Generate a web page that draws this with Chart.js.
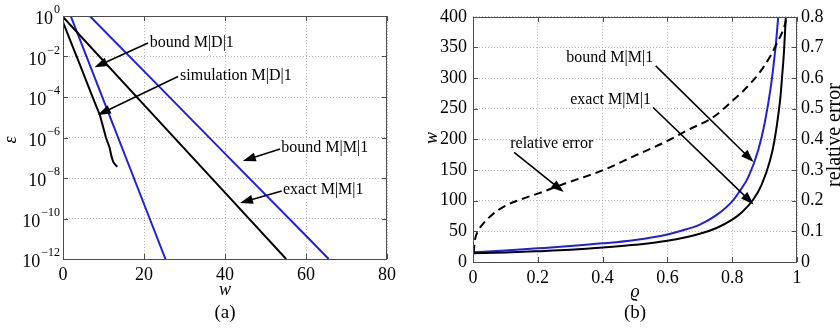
<!DOCTYPE html>
<html>
<head>
<meta charset="utf-8">
<script src="https://cdn.jsdelivr.net/npm/chart.js@4.4.1/dist/chart.umd.min.js"></script>
<style>
body{margin:0;background:#fff;}
#wrap{position:relative;width:840px;height:328px;}
.pane{position:absolute;top:0;width:420px;height:328px;}
</style>
</head>
<body>
<div id="wrap">
  <div class="pane" style="left:0"><canvas id="chartA" width="420" height="328"></canvas></div>
  <div class="pane" style="left:420px"><canvas id="chartB" width="420" height="328"></canvas></div>
</div>
<script>
// ---- panel (a): tail probability eps vs delay w (log y) ----
const wTicksA = [0, 20, 40, 60, 80];
const epsTickExp = [0, -2, -4, -6, -8, -10, -12];

const wBoundMD1 = [1.9, 10, 20, 25.3];
const epsBoundMD1 = [1, 7.1e-5, 5.2e-10, 1e-12];

const wSimMD1 = [0, 2, 4, 6, 8, 9.1, 10.6, 11.5, 12, 12.4, 12.8, 13.4];
const epsSimMD1 = [0.5, 4.9e-2, 4.8e-3, 4.6e-4, 4.5e-5, 1.3e-5, 1e-6, 3.2e-7, 1.1e-7, 6.3e-8, 4.8e-8, 3.6e-8];

const wBoundMM1 = [6.6, 20, 40, 60, 65.6];
const epsBoundMM1 = [1, 1.9e-3, 1.6e-7, 1.4e-11, 1e-12];

const wExactMM1 = [0, 20, 40, 55.1];
const epsExactMM1 = [0.89, 4.1e-5, 1.9e-9, 1e-12];

// ---- panel (b): delay w vs utilisation rho ----
const rhoBound = [0, 0.1, 0.2, 0.3, 0.4, 0.5, 0.6, 0.64, 0.7, 0.75, 0.8, 0.825, 0.85, 0.88, 0.9, 0.92, 0.935, 0.942];
const wBound = [15.8, 18.8, 22.3, 26, 30.4, 36, 45, 50.6, 61, 76, 99, 117, 139, 182, 226, 289, 357, 400];

const rhoExact = [0, 0.1, 0.2, 0.3, 0.4, 0.5, 0.6, 0.7, 0.75, 0.8, 0.83, 0.865, 0.89, 0.917, 0.93, 0.947, 0.95, 0.958, 0.96, 0.9655];
const wExact = [14.1, 15.5, 17.6, 20, 23.5, 28, 34.5, 46, 55, 69, 81, 102, 125, 166, 197, 260, 276, 329, 345, 400];

const rhoErr = [0.002, 0.006, 0.015, 0.032, 0.06, 0.094, 0.15, 0.2, 0.284, 0.4, 0.5, 0.6, 0.66, 0.742, 0.8, 0.845, 0.896, 0.937, 0.963, 0.966];
const relErr = [0.03, 0.072, 0.1, 0.126, 0.155, 0.18, 0.205, 0.223, 0.256, 0.299, 0.347, 0.395, 0.429, 0.473, 0.525, 0.57, 0.635, 0.711, 0.776, 0.79];

const BLUE = '#2020dc';
const FRAME = '#4d4d4d';
const GRID = '#b8b8b8';
const SERIF = "'Liberation Serif', 'DejaVu Serif', serif";
const TICKFONT = {family: SERIF, size: 18};

Chart.defaults.font.family = SERIF;
Chart.defaults.font.size = 18;
Chart.defaults.color = '#000';

function pts(xs, ys){ return xs.map((x,i)=>({x:x, y:ys[i]})); }

function arrow(ctx, x1, y1, x2, y2){
  const a = Math.atan2(y2-y1, x2-x1), c = Math.cos(a), s = Math.sin(a);
  ctx.beginPath();
  ctx.moveTo(x1, y1);
  ctx.lineTo(x2 - 8*c, y2 - 8*s);
  ctx.stroke();
  ctx.beginPath();
  ctx.moveTo(x2, y2);
  ctx.lineTo(x2 - 13*c + 4.5*s, y2 - 13*s - 4.5*c);
  ctx.lineTo(x2 - 13*c - 4.5*s, y2 - 13*s + 4.5*c);
  ctx.closePath();
  ctx.fill();
}

function rotText(ctx, txt, x, y, font){
  ctx.save();
  ctx.translate(x, y);
  ctx.rotate(-Math.PI/2);
  ctx.font = font;
  ctx.textAlign = 'center';
  ctx.textBaseline = 'middle';
  ctx.fillText(txt, 0, 0);
  ctx.restore();
}

// frame + inward tick marks like the original
function frameAndTicks(chart, xs, leftY, rightY){
  const {ctx, chartArea:a} = chart;
  ctx.save();
  ctx.strokeStyle = FRAME;
  ctx.lineWidth = 1;
  ctx.strokeRect(Math.round(a.left)+0.5, Math.round(a.top)+0.5, Math.round(a.right-a.left)-1, Math.round(a.bottom-a.top));
  ctx.beginPath();
  xs.ticks.forEach(t=>{
    const p = Math.round(xs.getPixelForValue(t.value))+0.5;
    ctx.moveTo(p, a.bottom); ctx.lineTo(p, a.bottom-5);
    ctx.moveTo(p, a.top); ctx.lineTo(p, a.top+5);
  });
  leftY.ticks.forEach(t=>{
    const p = Math.round(leftY.getPixelForValue(t.value))+0.5;
    ctx.moveTo(a.left, p); ctx.lineTo(a.left+5, p);
    if(!rightY){ ctx.moveTo(a.right, p); ctx.lineTo(a.right-5, p); }
  });
  if(rightY){
    rightY.ticks.forEach(t=>{
      const p = Math.round(rightY.getPixelForValue(t.value))+0.5;
      ctx.moveTo(a.right, p); ctx.lineTo(a.right-5, p);
    });
  }
  ctx.stroke();
  ctx.restore();
}

// annotation texts/arrows, anchored in data units
const notesA = [
  {text:'bound M|D|1',      tx:21.4, te:-1.30, fx:21.0, fe:-1.33, hx:7.8,  he:-2.53},
  {text:'simulation M|D|1', tx:28.9, te:-2.97, fx:28.4, fe:-2.99, hx:8.6,  he:-4.89},
  {text:'bound M|M|1',      tx:53.9, te:-6.52, fx:53.6, fe:-6.57, hx:44.4, he:-7.16},
  {text:'exact M|M|1',      tx:54.3, te:-8.59, fx:54.0, fe:-8.64, hx:43.7, he:-9.23}
];
const notesB = [
  {text:'bound M|M|1',    align:'right',  tx:0.556, ty:333,   fx:0.564, fy:320, hx:0.866, hy:163},
  {text:'exact M|M|1',    align:'right',  tx:0.549, ty:264.5, fx:0.556, fy:252, hx:0.866, hy:94},
  {text:'relative error', align:'center', tx:0.243, ty:193.5, fx:0.127, fy:179, hx:0.28,  hy:114}
];

const decorA = {
  id:'decorA',
  afterDraw(chart){
    const {ctx, chartArea:a} = chart;
    const xs = chart.scales.x, ys = chart.scales.y;
    frameAndTicks(chart, xs, ys, null);
    ctx.save();
    ctx.fillStyle = '#000';
    // y tick labels 10^n
    epsTickExp.forEach(e=>{
      const p = ys.getPixelForValue(Math.pow(10, e));
      const ex = e === 0 ? '0' : '\u2212' + (-e);
      ctx.font = '12px ' + SERIF;
      ctx.textAlign = 'right';
      ctx.textBaseline = 'middle';
      ctx.fillText(ex, a.left - 3, p - 6);
      const ew = ctx.measureText(ex).width;
      ctx.font = '18px ' + SERIF;
      ctx.fillText('10', a.left - 4 - ew, p + 3.5);
    });
    // titles
    ctx.textAlign = 'center';
    ctx.textBaseline = 'middle';
    ctx.font = 'italic 18px ' + SERIF;
    ctx.fillText('w', (a.left + a.right)/2, 290);
    ctx.font = '19px ' + SERIF;
    ctx.fillText('(a)', (a.left + a.right)/2, 313);
    rotText(ctx, '\u03b5', 11, 140, 'italic 18px ' + SERIF);
    // annotations
    ctx.font = '16px ' + SERIF;
    ctx.textAlign = 'left';
    ctx.strokeStyle = '#000';
    ctx.lineWidth = 1.6;
    notesA.forEach(n=>{
      ctx.fillText(n.text, xs.getPixelForValue(n.tx), ys.getPixelForValue(Math.pow(10, n.te)));
      arrow(ctx, xs.getPixelForValue(n.fx), ys.getPixelForValue(Math.pow(10, n.fe)),
                 xs.getPixelForValue(n.hx), ys.getPixelForValue(Math.pow(10, n.he)));
    });
    ctx.restore();
  }
};

const decorB = {
  id:'decorB',
  afterDraw(chart){
    const {ctx, chartArea:a} = chart;
    const xs = chart.scales.x, ys = chart.scales.y, y1 = chart.scales.y1;
    frameAndTicks(chart, xs, ys, y1);
    ctx.save();
    ctx.fillStyle = '#000';
    ctx.textAlign = 'center';
    ctx.textBaseline = 'middle';
    ctx.font = 'italic 18px ' + SERIF;
    ctx.fillText('\u03f1', (a.left + a.right)/2, 292);
    ctx.font = '19px ' + SERIF;
    ctx.fillText('(b)', (a.left + a.right)/2, 313);
    rotText(ctx, 'w', 12, 138, 'italic 18px ' + SERIF);
    rotText(ctx, 'relative error', 415, 135, '20px ' + SERIF);
    ctx.font = '16px ' + SERIF;
    ctx.strokeStyle = '#000';
    ctx.lineWidth = 1.6;
    notesB.forEach(n=>{
      ctx.textAlign = n.align;
      ctx.fillText(n.text, xs.getPixelForValue(n.tx), ys.getPixelForValue(n.ty));
      arrow(ctx, xs.getPixelForValue(n.fx), ys.getPixelForValue(n.fy),
                 xs.getPixelForValue(n.hx), ys.getPixelForValue(n.hy));
    });
    ctx.restore();
  }
};

const gridOpts = {color: GRID, lineWidth: 1, drawTicks: false};
const borderOpts = {display: false, dash: [1, 2]};

function line(data, color, extra){
  return Object.assign({data: data, borderColor: color, backgroundColor: color, borderWidth: 2,
    pointRadius: 0, fill: false, tension: 0}, extra || {});
}

function plainNum(v){ return String(Math.round(v * 10) / 10); }

new Chart(document.getElementById('chartA'), {
  type: 'line',
  data: {datasets: [
    line(pts(wExactMM1, epsExactMM1), '#000'),
    line(pts(wSimMD1, epsSimMD1), '#000'),
    line(pts(wBoundMM1, epsBoundMM1), BLUE),
    line(pts(wBoundMD1, epsBoundMD1), BLUE)
  ]},
  options: {
    responsive: false, animation: false, events: [],
    layout: {padding: {top: 16, right: 33, left: 0, bottom: 0}},
    plugins: {legend: {display: false}, tooltip: {enabled: false}},
    scales: {
      x: {type: 'linear', min: 0, max: 80,
          afterBuildTicks: s => { s.ticks = wTicksA.map(v => ({value: v})); },
          afterFit: s => { s.height = 69; },
          ticks: {padding: 5, autoSkip: false, maxRotation: 0, font: TICKFONT, color: '#000', callback: plainNum},
          grid: gridOpts, border: borderOpts},
      y: {type: 'logarithmic', min: 1e-12, max: 1,
          afterBuildTicks: s => { s.ticks = epsTickExp.map(e => ({value: Math.pow(10, e)})); },
          afterFit: s => { s.width = 63; },
          ticks: {display: false, autoSkip: false},
          grid: gridOpts, border: borderOpts}
    }
  },
  plugins: [decorA]
});

new Chart(document.getElementById('chartB'), {
  type: 'line',
  data: {datasets: [
    line(pts(rhoErr, relErr), '#000', {yAxisID: 'y1', borderDash: [8, 5], cubicInterpolationMode: 'monotone'}),
    line(pts(rhoExact, wExact), '#000', {cubicInterpolationMode: 'monotone'}),
    line(pts(rhoBound, wBound), BLUE, {cubicInterpolationMode: 'monotone'})
  ]},
  options: {
    responsive: false, animation: false, events: [],
    layout: {padding: {top: 16, right: 0, left: 0, bottom: 0}},
    plugins: {legend: {display: false}, tooltip: {enabled: false}},
    scales: {
      x: {type: 'linear', min: 0, max: 1,
          afterFit: s => { s.height = 66; },
          ticks: {stepSize: 0.2, padding: 5, maxRotation: 0, autoSkip: false, font: TICKFONT, color: '#000', callback: plainNum},
          grid: gridOpts, border: borderOpts},
      y: {type: 'linear', position: 'left', min: 0, max: 400,
          afterFit: s => { s.width = 53; },
          ticks: {stepSize: 50, padding: 6, autoSkip: false, font: TICKFONT, color: '#000', callback: plainNum},
          grid: gridOpts, border: borderOpts},
      y1: {type: 'linear', position: 'right', min: 0, max: 0.8,
          afterFit: s => { s.width = 43; },
          ticks: {stepSize: 0.1, padding: 4, autoSkip: false, font: TICKFONT, color: '#000', callback: plainNum},
          grid: {drawOnChartArea: false, drawTicks: false}, border: {display: false}}
    }
  },
  plugins: [decorB]
});
</script>
</body>
</html>
